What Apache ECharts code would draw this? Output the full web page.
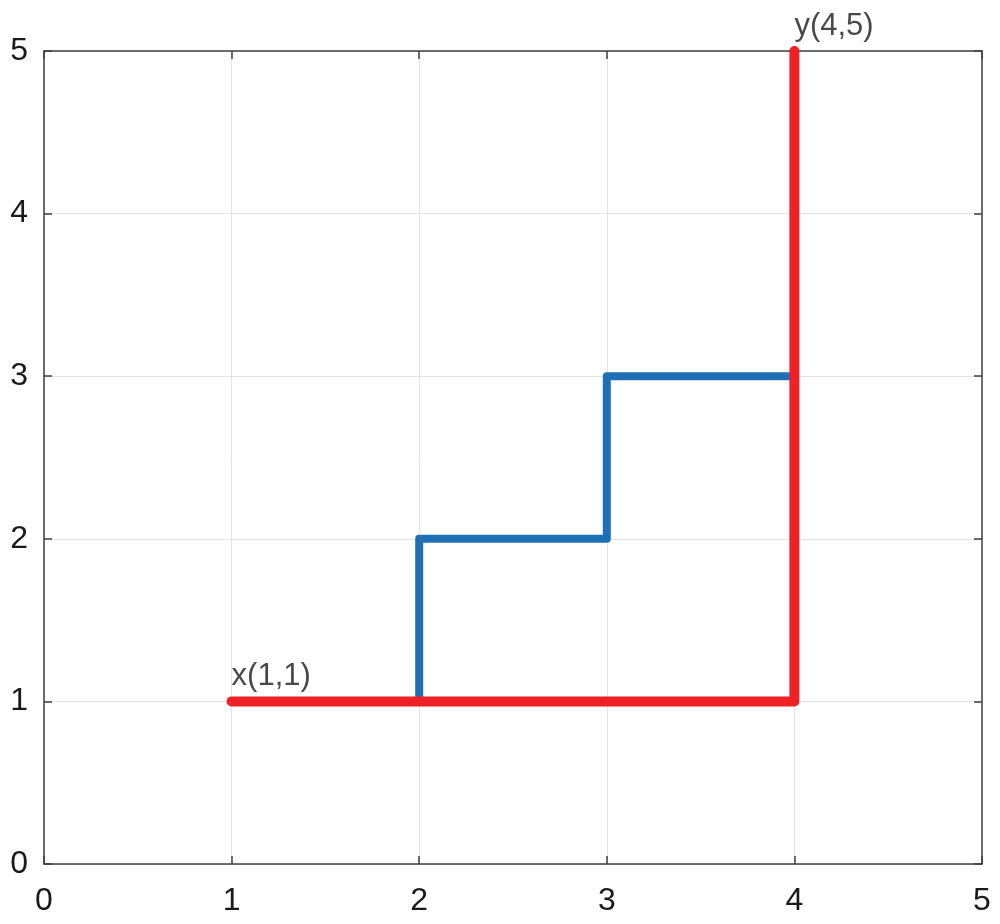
<!DOCTYPE html>
<html>
<head>
<meta charset="utf-8">
<script src="https://cdn.jsdelivr.net/npm/echarts@6/dist/echarts.min.js"></script>
<style>
  html, body { margin: 0; padding: 0; background: #fff; }
  #chart { width: 1000px; height: 924px; }
</style>
</head>
<body>
<div id="chart"></div>
<script>
// step path (blue) and direct path (red) between x(1,1) and y(4,5)
const bluePath = [[1, 1], [2, 1], [2, 2], [3, 2], [3, 3], [4, 3], [4, 5]]
const redPath = [[1, 1], [4, 1], [4, 5]]
const notePoints = [[1, 1], [4, 5]]
const noteLabels = ['x(1,1)', 'y(4,5)']
const xTicks = [0, 1, 2, 3, 4, 5]
const yTicks = [0, 1, 2, 3, 4, 5]

const font = '"Liberation Sans", Arial, sans-serif'
const axisColor = '#404040'

// shared look for the box axes (ticks point inward like the original)
function boxAxis (extra) {
  return Object.assign({
    type: 'value',
    min: 0,
    max: 5,
    interval: 1,
    axisLine: { show: true, onZero: false, lineStyle: { color: axisColor, width: 1.5 } },
    axisTick: { show: true, inside: true, length: 8, lineStyle: { color: axisColor, width: 1.5 } },
    splitLine: { show: false },
    axisLabel: { show: false }
  }, extra)
}

const chart = echarts.init(document.getElementById('chart'))
const option = {
  animation: false,
  backgroundColor: '#fff',
  grid: { left: 44, right: 18, top: 51, bottom: 60 },
  xAxis: [
    boxAxis({
      position: 'bottom',
      splitLine: { show: true, lineStyle: { color: '#e3e3e3', width: 1 } },
      axisLabel: {
        show: true, margin: 21, color: '#1a1a1a', fontSize: 32, fontFamily: font,
        formatter: v => xTicks.includes(v) ? String(v) : ''
      }
    }),
    boxAxis({ position: 'top' })
  ],
  yAxis: [
    boxAxis({
      position: 'left',
      splitLine: { show: true, lineStyle: { color: '#e3e3e3', width: 1 } },
      axisLabel: {
        show: true, margin: 16, color: '#1a1a1a', fontSize: 32, fontFamily: font,
        formatter: v => yTicks.includes(v) ? String(v) : ''
      }
    }),
    boxAxis({ position: 'right' })
  ],
  series: [
    {
      name: 'step',
      type: 'line',
      data: bluePath,
      showSymbol: false,
      clip: false,
      z: 3,
      lineStyle: { color: '#1f6fb7', width: 8, cap: 'round', join: 'round' }
    },
    {
      name: 'direct',
      type: 'line',
      data: redPath,
      showSymbol: false,
      clip: false,
      z: 4,
      lineStyle: { color: '#ee2226', width: 10, cap: 'round', join: 'round' }
    },
    {
      name: 'notes',
      type: 'scatter',
      symbolSize: 0,
      clip: false,
      z: 5,
      data: notePoints.map((p, i) => ({ value: p, name: noteLabels[i] })),
      label: {
        show: true,
        position: 'top',
        align: 'left',
        distance: 9,
        formatter: p => p.name,
        color: '#1a1a1a',
        fontSize: 31,
        fontFamily: font
      }
    }
  ]
}
chart.setOption(option)
</script>
</body>
</html>
